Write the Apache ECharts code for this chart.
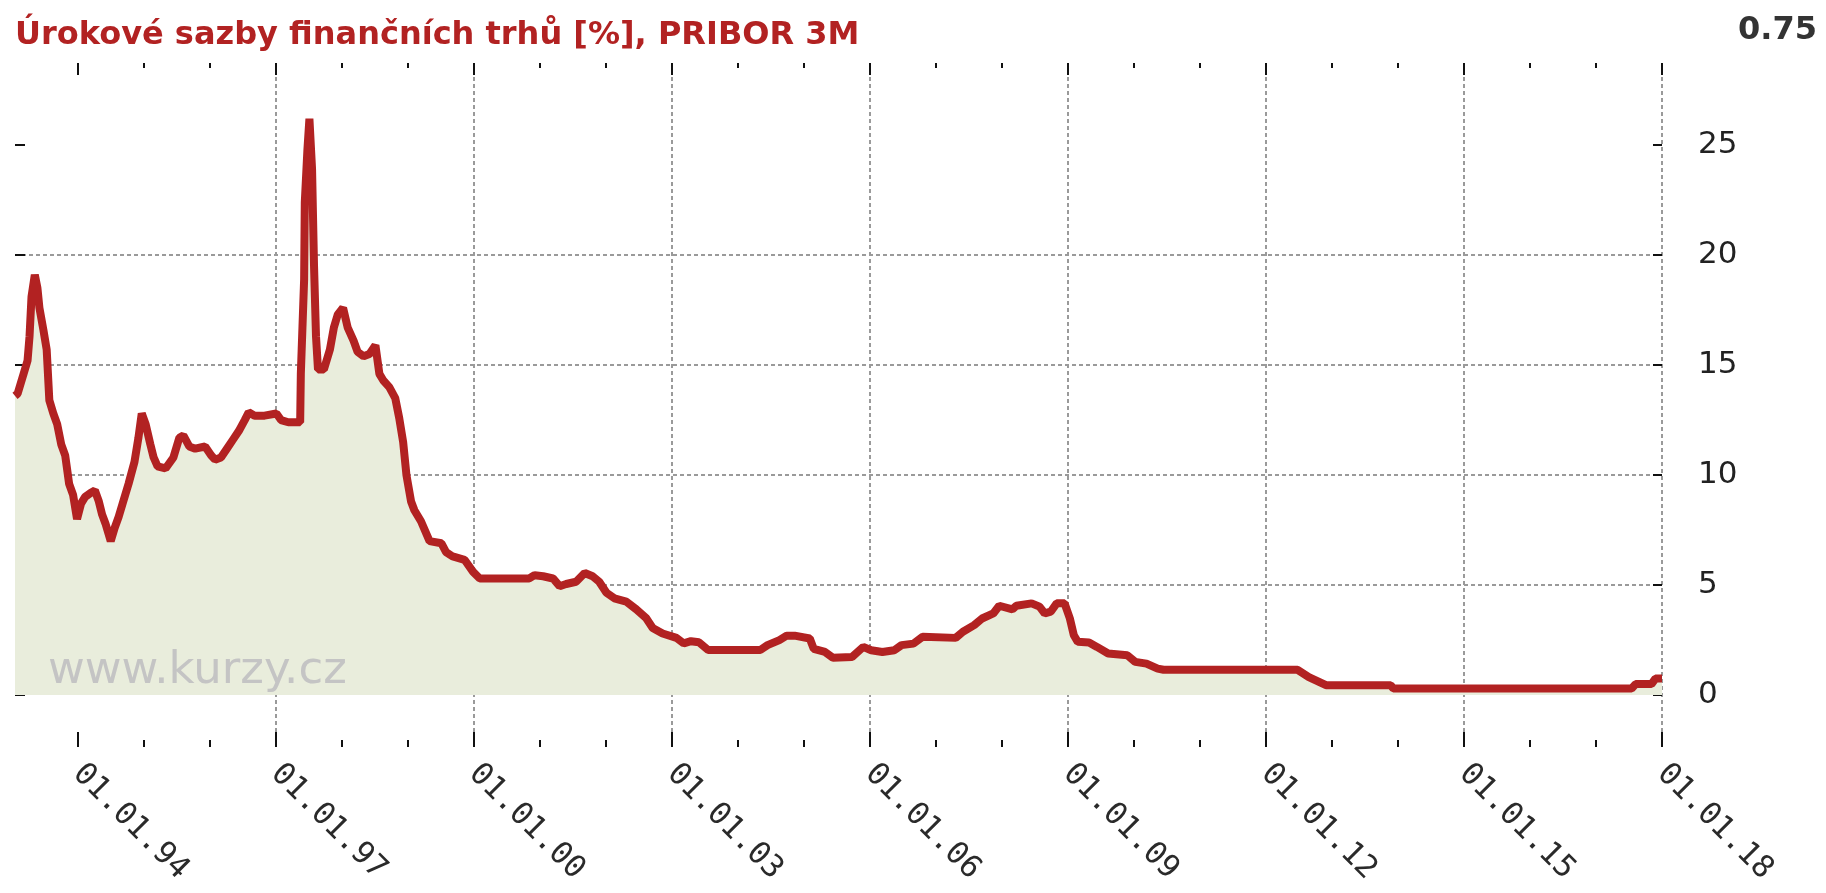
<!DOCTYPE html>
<html>
<head>
<meta charset="utf-8">
<title>PRIBOR 3M</title>
<script src="https://cdn.jsdelivr.net/npm/echarts@6/dist/echarts.min.js"></script>
<style>
  html, body { margin: 0; padding: 0; background: #fff; }
  #chart { width: 1826px; height: 893px; }
</style>
</head>
<body>
<div id="chart"></div>
<script>
// hodnoty (rok jako desetinné číslo, sazba v %)
const years = [
  1993.05, 1993.09, 1993.18, 1993.24, 1993.27, 1993.30, 1993.35, 1993.39, 1993.42, 1993.48,
  1993.53, 1993.57, 1993.63, 1993.69, 1993.75, 1993.81, 1993.87, 1993.93, 1993.99, 1994.05,
  1994.11, 1994.20, 1994.26, 1994.32, 1994.37, 1994.42, 1994.50, 1994.56, 1994.62, 1994.68,
  1994.77, 1994.86, 1994.92, 1994.97, 1995.03, 1995.10, 1995.15, 1995.21, 1995.33, 1995.45,
  1995.54, 1995.60, 1995.69, 1995.78, 1995.93, 1996.02, 1996.08, 1996.17, 1996.26, 1996.35,
  1996.44, 1996.53, 1996.59, 1996.68, 1996.83, 1997.01, 1997.08, 1997.19, 1997.37, 1997.38,
  1997.43, 1997.44, 1997.48, 1997.51, 1997.55, 1997.58, 1997.61, 1997.64, 1997.73, 1997.82,
  1997.88, 1997.94, 1998.02, 1998.09, 1998.18, 1998.24, 1998.33, 1998.42, 1998.51, 1998.57,
  1998.63, 1998.72, 1998.81, 1998.87, 1998.93, 1998.98, 1999.05, 1999.10, 1999.20, 1999.33,
  1999.51, 1999.58, 1999.68, 1999.86, 1999.99, 2000.09, 2000.84, 2000.92, 2001.05, 2001.20,
  2001.30, 2001.40, 2001.55, 2001.68, 2001.80, 2001.90, 2002.01, 2002.13, 2002.31, 2002.46,
  2002.61, 2002.71, 2002.86, 2003.07, 2003.18, 2003.29, 2003.41, 2003.55, 2004.34, 2004.45,
  2004.63, 2004.74, 2004.86, 2005.09, 2005.15, 2005.32, 2005.44, 2005.73, 2005.90, 2006.02,
  2006.19, 2006.37, 2006.48, 2006.66, 2006.80, 2007.30, 2007.41, 2007.58, 2007.70, 2007.87,
  2007.96, 2008.16, 2008.22, 2008.45, 2008.57, 2008.65, 2008.74, 2008.83, 2008.95, 2009.03,
  2009.09, 2009.15, 2009.32, 2009.44, 2009.61, 2009.90, 2010.02, 2010.19, 2010.36, 2010.45,
  2012.48, 2012.65, 2012.91, 2013.89, 2013.93, 2017.54, 2017.60, 2017.84, 2017.90, 2018.00
];
const rates = [
  13.6, 13.7, 14.6, 15.2, 16.3, 18.1, 19.1, 18.5, 17.6, 16.6,
  15.7, 13.4, 12.8, 12.3, 11.4, 10.9, 9.6, 9.1, 8.0, 8.7,
  9.0, 9.2, 9.3, 8.8, 8.2, 7.8, 7.0, 7.6, 8.1, 8.7,
  9.6, 10.6, 11.7, 12.8, 12.3, 11.4, 10.8, 10.4, 10.3, 10.8,
  11.7, 11.8, 11.3, 11.2, 11.3, 10.9, 10.7, 10.8, 11.2, 11.6,
  12.0, 12.5, 12.85, 12.7, 12.7, 12.8, 12.5, 12.4, 12.4, 14.6,
  18.9, 22.4, 24.8, 26.2, 23.9, 19.5, 16.3, 14.8, 14.8, 15.7,
  16.7, 17.3, 17.6, 16.7, 16.1, 15.6, 15.4, 15.5, 15.9, 14.6,
  14.3, 14.0, 13.5, 12.6, 11.5, 10.0, 8.8, 8.4, 7.9, 7.0,
  6.9, 6.5, 6.3, 6.15, 5.6, 5.3, 5.3, 5.45, 5.4, 5.3,
  4.95, 5.05, 5.15, 5.55, 5.4, 5.15, 4.65, 4.4, 4.25, 3.9,
  3.5, 3.05, 2.8, 2.6, 2.35, 2.45, 2.4, 2.05, 2.05, 2.27,
  2.5, 2.7, 2.7, 2.57, 2.1, 1.96, 1.7, 1.73, 2.19, 2.04,
  1.96, 2.04, 2.27, 2.34, 2.65, 2.6, 2.88, 3.18, 3.48, 3.71,
  4.06, 3.9, 4.06, 4.17, 4.02, 3.71, 3.79, 4.17, 4.17, 3.48,
  2.72, 2.42, 2.39, 2.19, 1.89, 1.81, 1.51, 1.43, 1.2, 1.15,
  1.15, 0.82, 0.45, 0.45, 0.3, 0.3, 0.5, 0.5, 0.75, 0.75
];
const majorYears = [1994, 1997, 2000, 2003, 2006, 2009, 2012, 2015, 2018];
const minorYears = [1995, 1996, 1998, 1999, 2001, 2002, 2004, 2005, 2007, 2008,
  2010, 2011, 2013, 2014, 2016, 2017];
const yTicks = [0, 5, 10, 15, 20, 25];
const lastValue = '0.75';

const chartDom = document.getElementById('chart');
let chart = echarts.init(chartDom);

const xMin = 1993.05, xMax = 2018;
const tickColor = '#111';
const gridLine = { color: '#9a9a9a', width: 2, type: [4, 3] };

// pomocná funkce pro osy, které kreslí jen čárky
function tickAxis(pos, values, len) {
    return {
        type: 'value', position: pos, min: xMin, max: xMax,
        axisLine: { show: false, onZero: false },
        axisTick: { show: true, inside: true, length: len, customValues: values,
                    lineStyle: { color: tickColor, width: 2 } },
        axisLabel: { show: false },
        splitLine: { show: false }
    };
}

let option = {
    animation: false,
    title: {
        text: 'Úrokové sazby finančních trhů [%], PRIBOR 3M',
        left: 10,
        top: 15,
        textStyle: { color: '#b22222', fontSize: 32, fontWeight: 'bold', fontFamily: 'DejaVu Sans' }
    },
    graphic: [
        {
            type: 'text', right: 9, top: 15,
            style: { text: lastValue, fill: '#333', font: 'bold 32px "DejaVu Sans"' }
        },
        {
            type: 'text', left: 48, top: 649, z: 10,
            style: { text: 'www.kurzy.cz', fill: '#c4c4c4', font: '45px "DejaVu Sans"' }
        }
    ],
    grid: { left: 15, right: 164, top: 63, bottom: 146 },
    xAxis: [
        {
            type: 'value', position: 'bottom', min: xMin, max: xMax,
            axisLine: { show: false, onZero: false },
            axisTick: { show: true, inside: true, length: 15, customValues: majorYears,
                        lineStyle: { color: tickColor, width: 2 } },
            axisLabel: {
                customValues: majorYears,
                rotate: -45,
                margin: 22,
                fontSize: 31,
                fontFamily: 'DejaVu Sans Mono',
                color: '#2a2a2a',
                formatter: v => '01.01.' + String(Math.round(v)).slice(2)
            },
            splitLine: { show: true, showMinLine: false, showMaxLine: true, lineStyle: gridLine }
        },
        tickAxis('bottom', minorYears, 7),
        tickAxis('top', majorYears, 12),
        tickAxis('top', minorYears, 5)
    ],
    yAxis: [
        {
            type: 'value', position: 'right', min: -2.36, max: 28.73,
            axisLine: { show: false, onZero: false },
            axisTick: { show: true, inside: true, length: 9, customValues: yTicks,
                        lineStyle: { color: tickColor, width: 2 } },
            axisLabel: { customValues: yTicks, margin: 36, fontSize: 31,
                         fontFamily: 'DejaVu Sans', color: '#222' },
            splitLine: { show: true, showMinLine: false, showMaxLine: false, lineStyle: gridLine }
        },
        {
            type: 'value', position: 'left', min: -2.36, max: 28.73,
            axisLine: { show: false, onZero: false },
            axisTick: { show: true, inside: true, length: 10, customValues: yTicks,
                        lineStyle: { color: tickColor, width: 2 } },
            axisLabel: { show: false },
            splitLine: { show: false }
        }
    ],
    series: [
        {
            name: 'PRIBOR 3M',
            type: 'line',
            xAxisIndex: 0,
            yAxisIndex: 0,
            showSymbol: false,
            data: years.map((y, i) => [y, rates[i]]),
            lineStyle: { color: '#b22222', width: 8 },
            areaStyle: { color: '#e9eddc', opacity: 1 },
            z: 3
        }
    ]
};

chart.setOption(option);
</script>
</body>
</html>
